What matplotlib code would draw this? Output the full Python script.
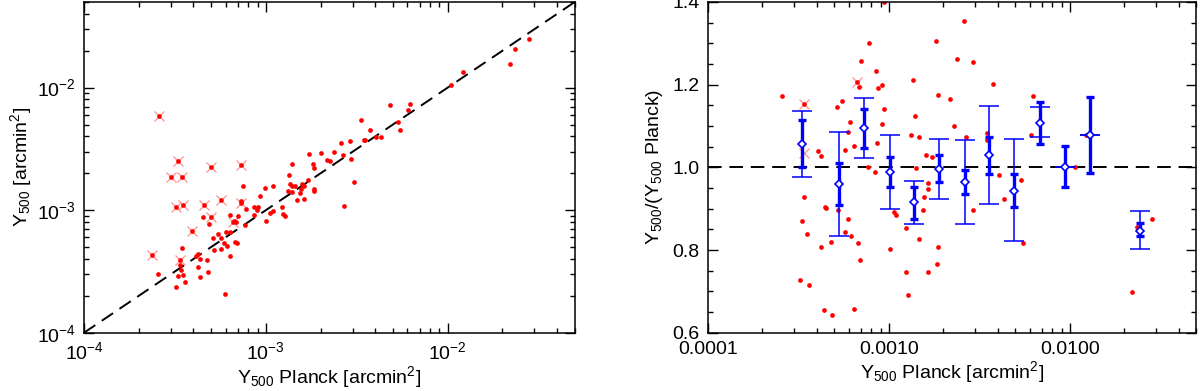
import numpy as np
import matplotlib.pyplot as plt
from matplotlib.ticker import FixedLocator, FixedFormatter, MultipleLocator, FormatStrFormatter, LogLocator, NullFormatter

plt.rcParams['font.family'] = ['Liberation Sans', 'DejaVu Sans']
plt.rcParams['mathtext.default'] = 'regular'
plt.rcParams['mathtext.fontset'] = 'custom'
plt.rcParams['mathtext.rm'] = 'Liberation Sans'

# left panel: Y500 vs Y500 Planck (arcmin^2)
ypl_dots = [7.52e-4, 9.94e-4, 9.29e-4, 7.31e-4, 7.78e-4, 8.57e-4, 9.09e-4, 8.91e-4, 1.00e-3, 6.38e-4,
            7.06e-4, 8.61e-4, 4.53e-4, 4.85e-4, 6.71e-4, 6.83e-4, 7.69e-4, 6.38e-4, 6.02e-4, 5.46e-4,
            5.13e-4, 5.65e-4, 5.86e-4, 6.09e-4, 6.79e-4, 6.92e-4, 3.46e-4, 5.19e-4, 5.69e-4, 6.38e-4,
            4.11e-4, 4.26e-4, 4.37e-4, 4.75e-4, 3.39e-4, 4.24e-4, 3.40e-4, 2.55e-4, 3.30e-4, 3.49e-4,
            4.81e-4, 4.33e-4, 3.60e-4, 3.21e-4, 5.98e-4,
            1.09e-3, 1.23e-3, 1.24e-3, 1.28e-3, 1.10e-3, 1.06e-3, 1.32e-3, 1.34e-3, 1.39e-3, 1.35e-3,
            1.40e-3, 1.45e-3, 1.40e-3, 1.54e-3, 1.57e-3, 1.59e-3, 1.62e-3, 1.48e-3, 1.63e-3, 1.73e-3,
            1.81e-3, 1.85e-3, 1.71e-3, 1.84e-3, 1.84e-3, 2.02e-3, 2.17e-3, 2.25e-3, 2.37e-3, 2.58e-3,
            2.64e-3, 2.89e-3, 2.93e-3, 3.04e-3, 2.70e-3, 3.33e-3, 3.46e-3, 3.52e-3, 3.74e-3, 4.02e-3,
            4.28e-3,
            4.82e-3, 5.36e-3, 5.47e-3, 6.04e-3, 6.19e-3, 1.04e-2, 1.22e-2, 2.19e-2, 2.35e-2, 2.81e-2]
y500_dots = [1.57e-3, 1.52e-3, 1.30e-3, 1.18e-3, 1.03e-3, 1.06e-3, 1.06e-3, 1.01e-3, 8.09e-4, 9.10e-4,
             8.93e-4, 9.22e-4, 8.73e-4, 7.73e-4, 8.13e-4, 7.94e-4, 7.64e-4, 6.65e-4, 6.65e-4, 6.41e-4,
             5.88e-4, 5.94e-4, 5.35e-4, 5.12e-4, 5.52e-4, 5.38e-4, 4.90e-4, 4.70e-4, 4.81e-4, 4.24e-4,
             4.24e-4, 4.41e-4, 3.99e-4, 3.91e-4, 3.56e-4, 3.43e-4, 3.23e-4, 3.01e-4, 2.90e-4, 2.94e-4,
             3.13e-4, 2.83e-4, 2.59e-4, 2.34e-4, 2.06e-4,
             1.58e-3, 1.06e-3, 9.39e-4, 8.89e-4, 9.82e-4, 9.57e-4, 1.44e-3, 1.93e-3, 2.36e-3, 1.64e-3,
             1.57e-3, 1.57e-3, 1.41e-3, 1.38e-3, 1.50e-3, 1.64e-3, 1.57e-3, 1.22e-3, 1.23e-3, 2.86e-3,
             2.38e-3, 2.19e-3, 1.75e-3, 1.49e-3, 1.43e-3, 2.93e-3, 2.55e-3, 2.51e-3, 3.01e-3, 3.53e-3,
             2.82e-3, 3.67e-3, 2.64e-3, 1.70e-3, 1.09e-3, 5.48e-3, 3.77e-3, 3.72e-3, 4.55e-3, 3.99e-3,
             3.99e-3,
             7.18e-3, 5.21e-3, 4.49e-3, 6.53e-3, 7.31e-3, 1.06e-2, 1.33e-2, 1.55e-2, 2.05e-2, 2.49e-2]
ypl_flag = [2.59e-4, 3.27e-4, 3.02e-4, 3.46e-4, 5.01e-4, 7.27e-4, 3.22e-4, 3.52e-4, 4.55e-4, 5.68e-4,
            5.01e-4, 6.62e-4, 3.94e-4, 2.38e-4, 3.37e-4, 7.31e-4]
y500_flag = [5.87e-3, 2.54e-3, 1.87e-3, 1.87e-3, 2.23e-3, 2.33e-3, 1.06e-3, 1.10e-3, 1.10e-3, 1.20e-3,
             8.81e-4, 7.98e-4, 6.75e-4, 4.32e-4, 3.92e-4, 1.15e-3]

# right panel: ratio vs Y500 Planck
ypl_r = [2.56e-4, 3.40e-4, 4.05e-4, 4.22e-4, 3.41e-4, 3.31e-4, 3.51e-4, 3.23e-4, 3.63e-4, 4.22e-4,
         4.41e-4, 4.47e-4, 4.36e-4, 4.85e-4, 4.79e-4, 5.19e-4, 5.50e-4, 5.20e-4, 5.73e-4, 5.91e-4,
         6.07e-4, 5.94e-4, 5.74e-4, 6.14e-4, 6.40e-4, 6.42e-4, 6.77e-4, 6.91e-4, 6.63e-4, 6.79e-4,
         7.03e-4, 7.75e-4, 8.43e-4, 7.62e-4, 8.34e-4, 8.57e-4, 8.71e-4,
         9.36e-4, 9.16e-4, 9.33e-4, 9.10e-4, 1.01e-3, 1.07e-3, 1.10e-3, 1.24e-3, 1.25e-3, 1.28e-3,
         1.35e-3, 1.40e-3, 1.32e-3, 1.46e-3, 1.41e-3, 1.47e-3, 1.55e-3, 1.57e-3, 1.64e-3, 1.64e-3,
         1.60e-3, 1.64e-3, 1.72e-3, 1.82e-3, 1.86e-3, 1.86e-3, 1.85e-3, 2.18e-3, 2.28e-3, 2.38e-3,
         2.61e-3, 2.65e-3, 2.92e-3, 2.93e-3, 3.46e-3, 3.46e-3, 3.77e-3, 4.05e-3, 4.31e-3,
         5.40e-3, 5.51e-3, 6.07e-3, 6.22e-3, 1.07e-2, 1.23e-2, 2.21e-2, 2.36e-2, 2.84e-2]
ratio_r = [1.173, 1.153, 1.039, 1.028, 0.929, 0.871, 0.840, 0.728, 0.716, 0.808,
           0.905, 0.901, 0.655, 0.644, 0.819, 1.146, 1.160, 0.896, 1.043, 1.086,
           1.109, 0.875, 0.844, 0.833, 1.052, 0.658, 0.817, 0.777, 1.207, 1.195,
           1.257, 1.301, 1.234, 1.002, 0.989, 1.058, 1.192,
           1.399, 1.199, 1.140, 1.104, 0.802, 0.891, 0.884, 0.853, 0.748, 0.691,
           1.211, 1.123, 1.079, 1.073, 0.998, 0.826, 0.896, 0.929, 0.947, 0.961,
           1.029, 0.748, 1.025, 1.305, 1.175, 0.807, 0.767, 1.166, 1.101, 1.262,
           1.354, 1.073, 1.254, 0.898, 1.083, 1.065, 1.202, 0.981, 0.924,
           0.970, 0.817, 1.078, 1.172, 1.001, 1.078, 0.699, 0.855, 0.874]
ypl_rx = [3.40e-4, 3.40e-4, 6.63e-4]
ratio_rx = [1.153, 1.035, 1.207]

# binned means
bin_x = [3.30e-4, 5.28e-4, 7.29e-4, 1.01e-3, 1.38e-3, 1.90e-3, 2.62e-3, 3.59e-3, 4.93e-3, 6.81e-3,
         9.35e-3, 1.29e-2, 2.44e-2]
bin_r = [1.057, 0.960, 1.095, 0.989, 0.915, 0.996, 0.965, 1.029, 0.944, 1.108, 1.001, 1.078, 0.847]
thin_hi = [1.137, 1.085, 1.167, 1.078, 0.968, 1.069, 1.065, 1.148, 1.068, 1.145, 1.001, 1.078, 0.894]
thin_lo = [0.977, 0.834, 1.023, 0.899, 0.862, 0.924, 0.863, 0.911, 0.822, 1.073, 1.001, 1.078, 0.802]
thick_hi = [1.115, 1.010, 1.141, 1.025, 0.952, 1.030, 0.994, 1.073, 0.985, 1.159, 1.051, 1.171, 0.865]
thick_lo = [1.000, 0.910, 1.048, 0.952, 0.876, 0.964, 0.936, 0.985, 0.904, 1.057, 0.952, 0.987, 0.835]

fig = plt.figure(figsize=(12, 3.91), dpi=100)
ax1 = fig.add_axes([0.070, 0.149, 0.409, 0.846])
ax2 = fig.add_axes([0.590, 0.149, 0.407, 0.846])

red = '#ff0000'
blue = '#0000ff'
fs = 14

# left
ax1.plot([1e-4, 5e-2], [1e-4, 5e-2], color='k', lw=1.4, dashes=(7, 4))
ax1.plot(ypl_flag, y500_flag, 'x', color='#ff9090', ms=7, mew=0.9, ls='none')
ax1.plot(ypl_dots, y500_dots, 'o', color=red, ms=3.4, mew=0, ls='none')
ax1.plot(ypl_flag, y500_flag, 'o', color=red, ms=3.4, mew=0, ls='none')
ax1.set_xscale('log')
ax1.set_yscale('log')
ax1.set_xlim(1e-4, 5e-2)
ax1.set_ylim(1e-4, 5e-2)
ax1.set_xlabel('Y$_{500}$ Planck [arcmin$^2$]', fontsize=fs, labelpad=1)
ax1.set_ylabel('Y$_{500}$ [arcmin$^2$]', fontsize=fs, labelpad=2)

# right
ax2.axhline(1.0, color='k', lw=1.4, dashes=(7, 4))
ax2.plot(ypl_rx, ratio_rx, 'x', color='#ff9090', ms=7, mew=0.9, ls='none')
ax2.plot(ypl_r, ratio_r, 'o', color=red, ms=3.4, mew=0, ls='none')
bx = np.array(bin_x)
br = np.array(bin_r)
ax2.errorbar(bx, br, yerr=[br - np.array(thin_lo), np.array(thin_hi) - br], fmt='none',
             ecolor=blue, elinewidth=1.1, capsize=7, capthick=1.1)
ax2.errorbar(bx, br, yerr=[br - np.array(thick_lo), np.array(thick_hi) - br], fmt='none',
             ecolor=blue, elinewidth=2.4, capsize=3, capthick=2.4)
ax2.plot(bx, br, 'D', color=blue, mfc='white', ms=4.5, mew=1.2, ls='none')
ax2.set_xscale('log')
ax2.set_xlim(1e-4, 5e-2)
ax2.set_ylim(0.6, 1.4)
ax2.xaxis.set_major_locator(FixedLocator([1e-4, 1e-3, 1e-2]))
ax2.xaxis.set_major_formatter(FixedFormatter(['0.0001', '0.0010', '0.0100']))
ax2.xaxis.set_minor_locator(LogLocator(base=10, subs=np.arange(2, 10)))
ax2.xaxis.set_minor_formatter(NullFormatter())
ax2.yaxis.set_major_locator(MultipleLocator(0.2))
ax2.yaxis.set_minor_locator(MultipleLocator(0.05))
ax2.yaxis.set_major_formatter(FormatStrFormatter('%.1f'))
ax2.set_xlabel('Y$_{500}$ Planck [arcmin$^2$]', fontsize=fs, labelpad=1)
ax2.set_ylabel('Y$_{500}$/(Y$_{500}$ Planck)', fontsize=fs, labelpad=5)

for ax in (ax1, ax2):
    ax.tick_params(which='both', direction='in', top=True, right=True, labelsize=fs, width=1.0)
    ax.tick_params(which='major', length=7, pad=6)
    ax.tick_params(which='minor', length=3.5)
    for s in ax.spines.values():
        s.set_linewidth(1.1)

fig.savefig('out.png', dpi=100)
